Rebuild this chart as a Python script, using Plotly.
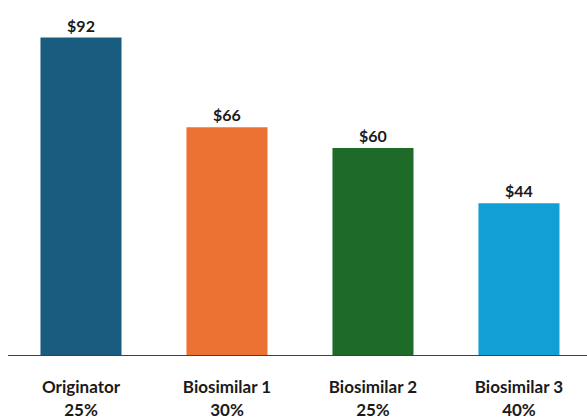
import plotly.graph_objects as go

categories = ["Originator", "Biosimilar 1", "Biosimilar 2", "Biosimilar 3"]
shares = ["25%", "30%", "25%", "40%"]
prices = [92, 66, 60, 44]
colors = ["#1A5C80", "#EB7233", "#1E6B29", "#129FD6"]

tick_text = [f"<b>{c}</b><br><b>{s}</b>" for c, s in zip(categories, shares)]
x_pos = list(range(len(categories)))

fig = go.Figure(
    go.Bar(
        x=x_pos,
        y=prices,
        marker=dict(color=colors, line=dict(width=0)),
        text=[f"<b>${p}</b>" for p in prices],
        textposition="outside",
        textfont=dict(family="Lato", size=16, color="#1a1a1a"),
        cliponaxis=False,
        width=0.555,
    )
)

fig.update_layout(
    width=587,
    height=419,
    margin=dict(l=8, r=0, t=0, b=64),
    paper_bgcolor="white",
    plot_bgcolor="white",
    showlegend=False,
    font=dict(family="Lato", size=16, color="#1a1a1a"),
)
fig.update_xaxes(
    range=[-0.5, 3.466],
    tickvals=x_pos,
    ticktext=tick_text,
    showline=True,
    linecolor="#404040",
    linewidth=1,
    showgrid=False,
    zeroline=False,
    ticks="",
    ticklabelstandoff=17,
    automargin=False,
    tickfont=dict(family="Lato", size=17, color="#1a1a1a"),
)
fig.update_yaxes(
    range=[0, 102.9],
    visible=False,
    showgrid=False,
    zeroline=False,
    automargin=False,
)

fig.write_html("out.html")
